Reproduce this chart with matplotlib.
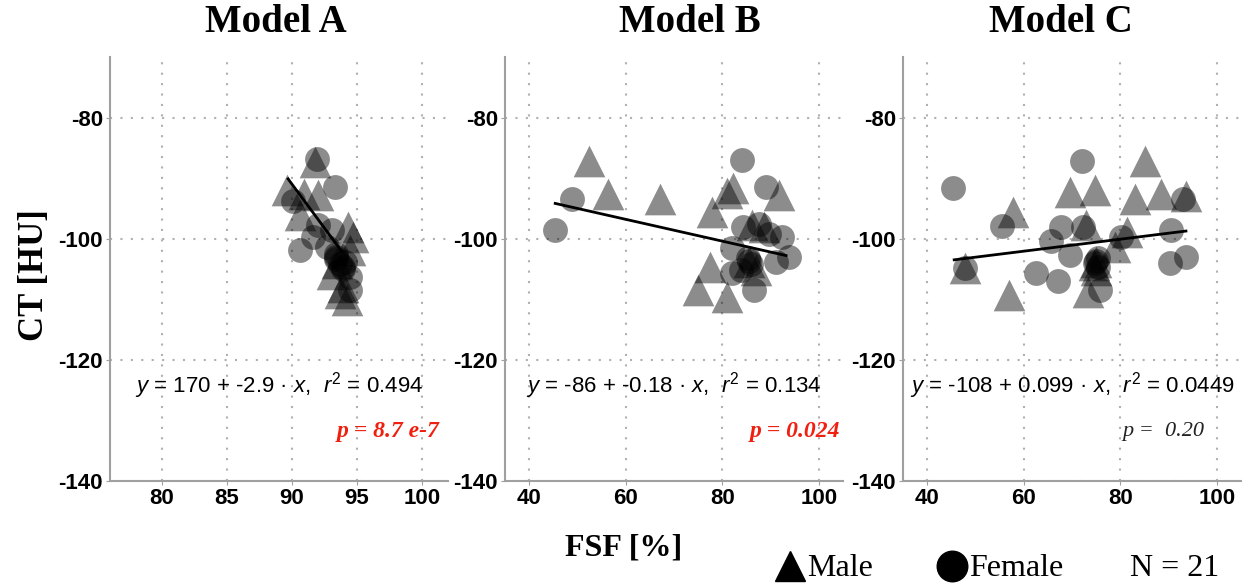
import matplotlib
matplotlib.use("Agg")
import matplotlib.pyplot as plt
from matplotlib.lines import Line2D

plt.rcParams['axes.unicode_minus'] = False
plt.rcParams['mathtext.fontset'] = 'custom'
plt.rcParams['mathtext.it'] = 'Liberation Sans:italic'
plt.rcParams['mathtext.rm'] = 'Liberation Sans'

titles = ["Model A", "Model B", "Model C"]

# Model A
a_male_x = [91.8, 89.6, 90.9, 92.0, 90.6, 94.3, 94.7, 94.5, 93.1, 93.9, 94.2, 93.7, 93.5]
a_male_y = [-87.4, -92.0, -92.6, -92.8, -96.1, -98.1, -99.7, -101.9, -105.8, -108.0, -110.1, -109.0, -104.0]
a_fem_x = [91.9, 93.3, 90.6, 92.0, 90.1, 93.1, 93.4, 93.4, 93.4, 93.9, 93.9, 94.5, 94.5, 92.7, 91.6, 93.7, 94.1]
a_fem_y = [-86.8, -91.5, -101.9, -97.8, -93.7, -98.6, -103.0, -103.4, -102.6, -104.7, -105.0, -106.3, -108.5, -101.4, -99.7, -104.2, -103.8]

# Model B
b_male_x = [52.4, 56.4, 67.2, 80.9, 82.3, 91.8, 77.8, 77.5, 74.9, 80.9, 86.2, 88.7, 86.9, 85.6]
b_male_y = [-87.2, -92.6, -93.4, -92.4, -91.7, -92.8, -95.6, -104.7, -108.5, -109.6, -97.8, -98.1, -105.2, -103.8]
b_fem_x = [45.4, 48.8, 84.0, 89.0, 84.2, 87.6, 92.4, 82.1, 93.8, 91.1, 85.6, 85.9, 85.3, 82.1, 86.6, 83.9, 89.7]
b_fem_y = [-98.6, -93.4, -87.0, -91.5, -98.1, -97.5, -99.7, -101.6, -103.0, -103.8, -103.6, -104.2, -103.2, -105.7, -108.5, -105.2, -99.2]

# Model C
c_male_x = [85.1, 69.5, 74.7, 83.1, 88.5, 93.7, 57.8, 72.9, 81.3, 78.9, 47.8, 56.9, 73.3, 75.0, 75.0, 74.6]
c_male_y = [-87.2, -92.3, -91.9, -93.4, -92.6, -92.9, -95.6, -97.8, -98.9, -101.4, -104.9, -109.3, -108.8, -105.2, -103.9, -104.3]
c_fem_x = [45.4, 72.0, 93.0, 55.4, 67.8, 72.3, 65.7, 80.2, 90.6, 69.5, 75.0, 74.7, 75.3, 47.8, 62.6, 67.1, 90.3, 93.7, 75.8, 75.4]
c_fem_y = [-91.6, -87.1, -93.4, -97.9, -98.1, -98.1, -100.3, -99.7, -98.6, -102.7, -103.6, -104.0, -103.2, -104.9, -105.7, -106.9, -104.0, -103.0, -108.5, -104.7]

male_x = [a_male_x, b_male_x, c_male_x]
male_y = [a_male_y, b_male_y, c_male_y]
fem_x = [a_fem_x, b_fem_x, c_fem_x]
fem_y = [a_fem_y, b_fem_y, c_fem_y]

intercepts = [170, -86, -108]
slopes = [-2.9, -0.18, 0.099]
fit_xrange = [(89.7, 93.8), (45.4, 93.2), (45.6, 93.6)]
eq_texts = [r"$y$ = 170 + -2.9 · $x$,  $r^2$ = 0.494",
            r"$y$ = -86 + -0.18 · $x$,  $r^2$ = 0.134",
            r"$y$ = -108 + 0.099 · $x$,  $r^2$ = 0.0449"]
p_texts = ["p = 8.7 e-7", "p = 0.024", "p =  0.20"]
p_signif = [True, True, False]

xlims = [(76, 102), (35, 105), (35, 105)]
xticks = [[80, 85, 90, 95, 100], [40, 60, 80, 100], [40, 60, 80, 100]]
yticks = [-140, -120, -100, -80]

W, H = 1242, 585
fig = plt.figure(figsize=(W / 100, H / 100), dpi=100)

lefts = [110, 505, 903]
width = 338
top, bottom = 57, 481
title_x = [276, 690, 1061]
p_x = [0.975, 0.993, 0.89]

serif = ['Liberation Serif', 'DejaVu Serif']
sans = ['Liberation Sans', 'DejaVu Sans']

for i in range(3):
    ax = fig.add_axes([lefts[i] / W, 1 - bottom / H, width / W, (bottom - top) / H])
    ax.scatter(male_x[i], male_y[i], marker='^', s=520, color='black', alpha=0.45, linewidths=0, zorder=3)
    ax.scatter(fem_x[i], fem_y[i], marker='o', s=320, color='black', alpha=0.45, linewidths=0, zorder=3)
    x0, x1 = fit_xrange[i]
    ax.plot([x0, x1], [intercepts[i] + slopes[i] * x0, intercepts[i] + slopes[i] * x1],
            color='black', lw=2, zorder=4)
    ax.set_xlim(*xlims[i])
    ax.set_ylim(-140, -70)
    ax.set_xticks(xticks[i])
    ax.set_yticks(yticks)
    ax.grid(True, ls=(0, (1, 4)), color='#b0b0b0', lw=1.5)
    ax.set_axisbelow(True)
    for s in ['top', 'right']:
        ax.spines[s].set_visible(False)
    for s in ['left', 'bottom']:
        ax.spines[s].set_color('#a0a0a0')
        ax.spines[s].set_linewidth(1.5)
    ax.tick_params(length=3, color='#a0a0a0', pad=2)
    for lab in ax.get_xticklabels() + ax.get_yticklabels():
        lab.set_family(sans)
        lab.set_fontweight('bold')
        lab.set_fontsize(16)
    ax.text(0.5, 0.226, eq_texts[i], transform=ax.transAxes, ha='center', va='center',
            fontsize=16, family=sans)
    if p_signif[i]:
        ax.text(p_x[i], 0.116, p_texts[i], transform=ax.transAxes, ha='right', va='center',
                fontsize=17, family=serif, fontweight='bold', style='italic', color='#f02010')
    else:
        ax.text(p_x[i], 0.116, p_texts[i], transform=ax.transAxes, ha='right', va='center',
                fontsize=16, family=serif, style='italic', color='#222222')
    fig.text(title_x[i] / W, 1 - 22 / H, titles[i], ha='center', va='center',
             fontsize=28, family=serif, fontweight='bold')

fig.text(35 / W, 1 - 275 / H, "CT [HU]", rotation=90, ha='center', va='center',
         fontsize=25, family=serif, fontweight='bold')
fig.text(624 / W, 1 - 548 / H, "FSF [%]", ha='center', va='center',
         fontsize=23, family=serif, fontweight='bold')

# legend
fig.add_artist(Line2D([790 / W], [1 - 566 / H], marker='^', markersize=22, color='black',
                      linestyle='none', transform=fig.transFigure))
fig.add_artist(Line2D([952 / W], [1 - 566 / H], marker='o', markersize=22, color='black',
                      linestyle='none', transform=fig.transFigure))
fig.text(807 / W, 1 - 568 / H, "Male", ha='left', va='center', fontsize=23, family=serif)
fig.text(969 / W, 1 - 568 / H, "Female", ha='left', va='center', fontsize=23, family=serif)
fig.text(1130 / W, 1 - 568 / H, "N = 21", ha='left', va='center', fontsize=23, family=serif)

fig.savefig("out.png", dpi=100)
